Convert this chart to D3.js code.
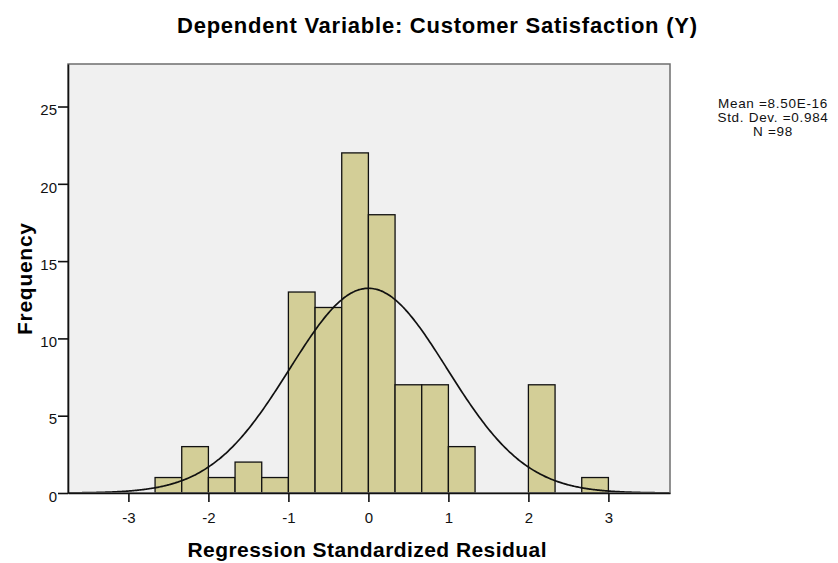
<!DOCTYPE html>
<html>
<head>
<meta charset="utf-8">
<script src="https://cdn.jsdelivr.net/npm/d3@7"></script>
<style>
  body { margin: 0; background: #fff; }
  svg { display: block; font-family: "Liberation Sans", Arial, sans-serif; }
</style>
</head>
<body>
<svg id="chart" width="838" height="563"></svg>
<script>
// histogram bins (edges in residual units) and counts
const binEdges = [-8/3, -7/3, -2, -5/3, -4/3, -1, -2/3, -1/3, 0, 1/3, 2/3, 1, 4/3, 5/3, 2, 7/3, 8/3, 3];
const binCounts = [1, 3, 1, 2, 1, 13, 12, 22, 18, 7, 7, 3, 0, 0, 7, 0, 1];
const xTicks = [-3, -2, -1, 0, 1, 2, 3];
const yTicks = [0, 5, 10, 15, 20, 25];
const stats = { mean: 8.50e-16, sd: 0.984, n: 98 };
const statLines = ["Mean =8.50E-16", "Std. Dev. =0.984", "N =98"];

const svg = d3.select("#chart");
const plot = { left: 68, right: 670, top: 64, bottom: 493 };

const x = d3.scaleLinear().domain([-3.755, 3.77]).range([plot.left, plot.right]);
const y = d3.scaleLinear().domain([0, 27.75]).range([plot.bottom, plot.top]);

// plot background
svg.append("rect")
    .attr("x", plot.left).attr("y", plot.top)
    .attr("width", plot.right - plot.left)
    .attr("height", plot.bottom - plot.top)
    .attr("fill", "#f0f0f0");

// bars
const bins = binCounts.map((c, i) => ({ x0: binEdges[i], x1: binEdges[i + 1], count: c }))
    .filter(d => d.count > 0);

svg.append("g")
    .selectAll("rect")
    .data(bins)
    .join("rect")
    .attr("x", d => x(d.x0))
    .attr("y", d => y(d.count))
    .attr("width", d => x(d.x1) - x(d.x0))
    .attr("height", d => y(0) - y(d.count))
    .attr("fill", "#d3ce97")
    .attr("stroke", "#111")
    .attr("stroke-width", 1.3);

// normal curve scaled to counts
const binWidth = 1 / 3;
const scale = stats.n * binWidth / (stats.sd * Math.sqrt(2 * Math.PI));
const curvePts = d3.range(-3.755, 3.77, 0.02).map(v =>
    [v, scale * Math.exp(-0.5 * Math.pow((v - stats.mean) / stats.sd, 2))]);

svg.append("path")
    .datum(curvePts)
    .attr("fill", "none")
    .attr("stroke", "#111")
    .attr("stroke-width", 1.7)
    .attr("d", d3.line().x(d => x(d[0])).y(d => y(d[1])).curve(d3.curveBasis));

// frame
svg.append("rect")
    .attr("x", plot.left).attr("y", plot.top)
    .attr("width", plot.right - plot.left)
    .attr("height", plot.bottom - plot.top)
    .attr("fill", "none")
    .attr("stroke", "#6e6e6e")
    .attr("stroke-width", 1.5);

// axes
const xAxis = svg.append("g")
    .attr("transform", `translate(0,${plot.bottom})`)
    .call(d3.axisBottom(x).tickValues(xTicks).tickFormat(d => String(d))
        .tickSize(9).tickSizeOuter(0).tickPadding(10));

const yAxis = svg.append("g")
    .attr("transform", `translate(${plot.left},0)`)
    .call(d3.axisLeft(y).tickValues(yTicks).tickFormat(d => String(d))
        .tickSize(10).tickSizeOuter(0).tickPadding(1));

[xAxis, yAxis].forEach(a => {
    a.select(".domain").attr("stroke", "#111").attr("stroke-width", 1.6);
    a.selectAll(".tick line").attr("stroke", "#111").attr("stroke-width", 1.6);
    a.selectAll(".tick text")
        .attr("fill", "#111")
        .style("font-size", "15px")
        .style("font-family", "'Liberation Sans', Arial, sans-serif");
});
yAxis.selectAll(".tick text").attr("dy", "0.55em");

// title and axis labels
svg.append("text")
    .attr("x", 437).attr("y", 33)
    .attr("text-anchor", "middle")
    .attr("textLength", 520).attr("lengthAdjust", "spacing")
    .style("font-size", "22px").style("font-weight", "bold")
    .text("Dependent Variable: Customer Satisfaction (Y)");

svg.append("text")
    .attr("x", 367).attr("y", 557)
    .attr("text-anchor", "middle")
    .attr("textLength", 359).attr("lengthAdjust", "spacing")
    .style("font-size", "21px").style("font-weight", "bold")
    .text("Regression Standardized Residual");

svg.append("text")
    .attr("transform", "translate(32,279) rotate(-90)")
    .attr("text-anchor", "middle")
    .attr("textLength", 112).attr("lengthAdjust", "spacing")
    .style("font-size", "21px").style("font-weight", "bold")
    .text("Frequency");

// stats box
svg.append("g")
    .selectAll("text")
    .data(statLines)
    .join("text")
    .attr("x", 773)
    .attr("y", (d, i) => 107.5 + i * 14.3)
    .attr("text-anchor", "middle")
    .style("font-size", "13.5px")
    .style("letter-spacing", "0.7px")
    .attr("fill", "#111")
    .text(d => d);
</script>
</body>
</html>
